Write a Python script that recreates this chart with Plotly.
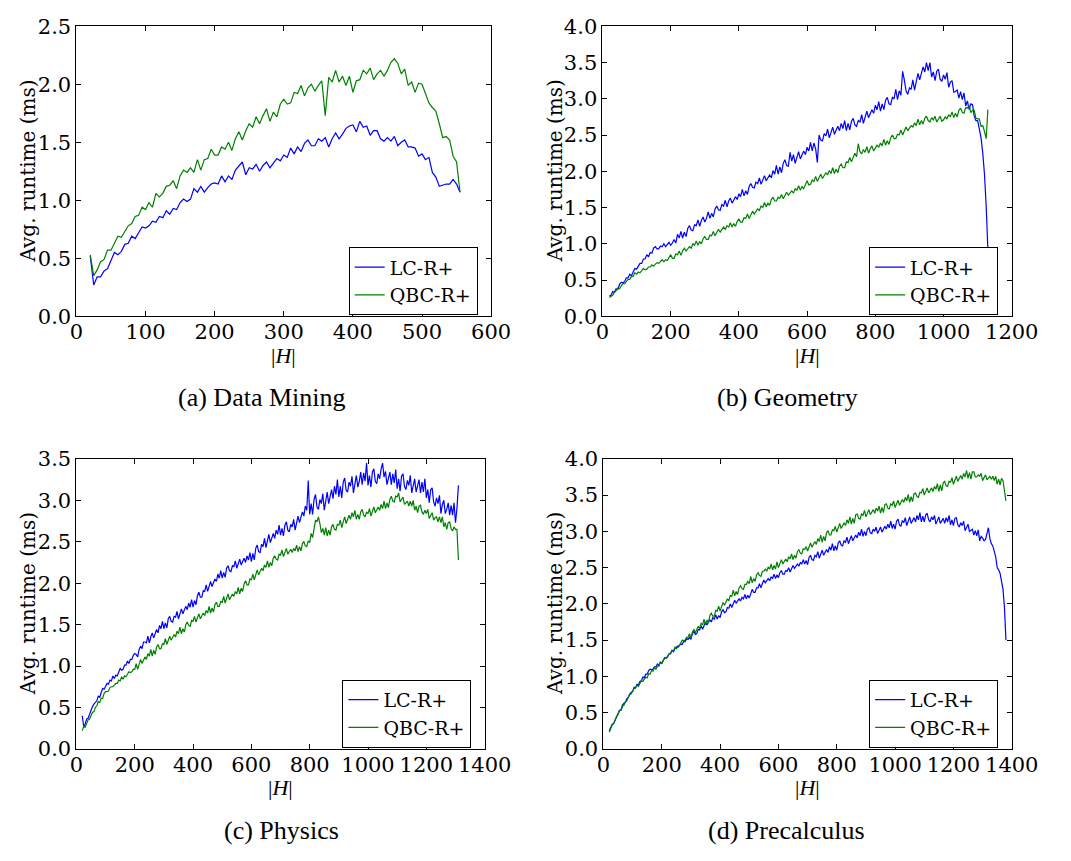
import plotly.graph_objects as go

# ---------------- data ----------------
# (a) Data Mining : |H| from 20, step 5
H_A_START, H_A_STEP = 20, 5
LC_A = [0.52, 0.27, 0.34, 0.34, 0.39, 0.41, 0.48, 0.55, 0.53, 0.56, 0.62, 0.63, 0.69, 0.67, 0.72, 0.77,
        0.76, 0.78, 0.82, 0.81, 0.86, 0.85, 0.91, 0.88, 0.93, 0.92, 0.98, 1.01, 0.99, 1.01, 1.10, 1.07,
        1.12, 1.07, 1.11, 1.14, 1.15, 1.14, 1.21, 1.16, 1.21, 1.18, 1.26, 1.30, 1.33, 1.22, 1.28, 1.27,
        1.31, 1.25, 1.30, 1.33, 1.28, 1.32, 1.36, 1.34, 1.39, 1.37, 1.45, 1.40, 1.46, 1.42, 1.49, 1.52,
        1.47, 1.47, 1.53, 1.51, 1.54, 1.46, 1.53, 1.58, 1.53, 1.57, 1.62, 1.64, 1.65, 1.59, 1.68, 1.63,
        1.64, 1.56, 1.60, 1.60, 1.53, 1.51, 1.54, 1.51, 1.55, 1.47, 1.50, 1.52, 1.46, 1.46, 1.45, 1.38,
        1.40, 1.35, 1.37, 1.24, 1.20, 1.12, 1.13, 1.14, 1.14, 1.18, 1.14, 1.07]
QBC_A = [0.53, 0.35, 0.40, 0.47, 0.49, 0.57, 0.57, 0.63, 0.69, 0.68, 0.73, 0.78, 0.80, 0.86, 0.87, 0.94,
         0.92, 0.98, 0.94, 1.06, 1.03, 1.06, 1.12, 1.13, 1.17, 1.10, 1.21, 1.26, 1.24, 1.28, 1.24, 1.35,
         1.26, 1.35, 1.36, 1.44, 1.39, 1.39, 1.46, 1.44, 1.50, 1.43, 1.53, 1.59, 1.52, 1.60, 1.66, 1.63,
         1.72, 1.66, 1.73, 1.79, 1.68, 1.76, 1.72, 1.83, 1.87, 1.83, 1.84, 1.93, 1.92, 1.99, 1.90, 1.97,
         2.00, 1.94, 1.99, 2.03, 1.73, 2.06, 2.02, 2.12, 2.02, 2.07, 1.99, 2.07, 1.93, 2.03, 2.04, 2.12,
         2.09, 2.14, 2.04, 2.09, 2.12, 2.07, 2.12, 2.19, 2.22, 2.18, 2.09, 2.13, 1.99, 2.02, 1.93, 2.01,
         2.00, 1.91, 1.84, 1.80, 1.77, 1.66, 1.54, 1.55, 1.52, 1.38, 1.33, 1.07]

# (b) Geometry : |H| from 20, step 5
H_B_START, H_B_STEP = 20, 5
LC_B = [0.28, 0.29, 0.34, 0.33, 0.38, 0.37, 0.44, 0.47, 0.46, 0.48, 0.53, 0.53, 0.58, 0.56, 0.61, 0.66,
        0.65, 0.69, 0.73, 0.73, 0.79, 0.79, 0.85, 0.82, 0.88, 0.87, 0.94, 0.96, 0.93, 0.93, 0.97, 0.96,
        1.00, 0.96, 0.99, 1.02, 0.98, 1.01, 1.06, 1.01, 1.13, 1.08, 1.17, 1.08, 1.16, 1.10, 1.21, 1.25,
        1.19, 1.18, 1.26, 1.25, 1.33, 1.24, 1.32, 1.37, 1.30, 1.35, 1.44, 1.35, 1.42, 1.37, 1.48, 1.52,
        1.47, 1.46, 1.54, 1.52, 1.60, 1.51, 1.59, 1.63, 1.56, 1.61, 1.65, 1.61, 1.69, 1.65, 1.75, 1.66,
        1.73, 1.68, 1.79, 1.83, 1.78, 1.77, 1.85, 1.83, 1.91, 1.82, 1.89, 1.94, 1.87, 1.91, 1.95, 1.91,
        2.01, 1.96, 2.08, 1.96, 2.06, 1.98, 2.11, 2.16, 2.08, 2.07, 2.26, 2.14, 2.23, 2.11, 2.21, 2.27,
        2.17, 2.23, 2.28, 2.23, 2.33, 2.28, 2.40, 2.28, 2.39, 2.31, 2.12, 2.50, 2.43, 2.42, 2.52, 2.49,
        2.58, 2.46, 2.55, 2.61, 2.51, 2.57, 2.62, 2.56, 2.66, 2.59, 2.70, 2.56, 2.66, 2.57, 2.69, 2.73,
        2.64, 2.62, 2.70, 2.68, 2.78, 2.66, 2.76, 2.83, 2.74, 2.80, 2.85, 2.80, 2.91, 2.85, 2.96, 2.83,
        2.93, 2.85, 2.98, 3.02, 2.93, 2.92, 3.02, 3.00, 3.13, 2.99, 3.11, 3.05, 3.38, 3.26, 3.11, 3.06,
        3.15, 3.13, 3.26, 3.12, 3.26, 3.35, 3.26, 3.35, 3.44, 3.37, 3.50, 3.39, 3.50, 3.30, 3.37, 3.25,
        3.38, 3.41, 3.27, 3.24, 3.33, 3.27, 3.36, 3.16, 3.23, 3.25, 3.09, 3.10, 3.12, 3.01, 3.10, 2.99,
        3.08, 2.90, 2.97, 2.85, 2.93, 2.92, 2.76, 2.70, 2.70, 2.58, 2.46, 2.25, 1.96, 1.52, 0.92]
QBC_B = [0.26, 0.27, 0.29, 0.33, 0.35, 0.39, 0.38, 0.42, 0.45, 0.45, 0.48, 0.51, 0.51, 0.55, 0.55, 0.60,
         0.58, 0.61, 0.60, 0.64, 0.66, 0.64, 0.65, 0.68, 0.68, 0.71, 0.69, 0.72, 0.74, 0.73, 0.75, 0.78,
         0.75, 0.78, 0.77, 0.81, 0.85, 0.80, 0.80, 0.86, 0.85, 0.90, 0.84, 0.90, 0.94, 0.90, 0.93, 0.96,
         0.94, 1.00, 0.98, 1.04, 0.98, 1.03, 1.00, 1.07, 1.10, 1.06, 1.06, 1.12, 1.11, 1.17, 1.11, 1.16,
         1.20, 1.16, 1.20, 1.23, 1.20, 1.25, 1.23, 1.29, 1.23, 1.28, 1.24, 1.31, 1.34, 1.30, 1.30, 1.36,
         1.35, 1.41, 1.35, 1.41, 1.45, 1.41, 1.45, 1.48, 1.46, 1.52, 1.50, 1.57, 1.51, 1.56, 1.53, 1.61,
         1.64, 1.59, 1.59, 1.64, 1.63, 1.68, 1.62, 1.67, 1.71, 1.67, 1.70, 1.73, 1.70, 1.76, 1.74, 1.80,
         1.74, 1.79, 1.76, 1.83, 1.87, 1.81, 1.82, 1.88, 1.86, 1.93, 1.86, 1.91, 1.96, 1.90, 1.95, 1.98,
         1.95, 2.01, 1.97, 2.05, 1.97, 2.03, 1.98, 2.07, 2.10, 2.05, 2.05, 2.13, 2.12, 2.19, 2.13, 2.20,
         2.25, 2.20, 2.38, 2.27, 2.24, 2.30, 2.26, 2.34, 2.25, 2.31, 2.35, 2.28, 2.32, 2.36, 2.33, 2.39,
         2.35, 2.44, 2.36, 2.42, 2.37, 2.46, 2.50, 2.45, 2.45, 2.51, 2.50, 2.57, 2.50, 2.56, 2.61, 2.56,
         2.60, 2.63, 2.61, 2.67, 2.63, 2.72, 2.64, 2.70, 2.65, 2.73, 2.76, 2.70, 2.68, 2.74, 2.71, 2.76,
         2.68, 2.73, 2.76, 2.69, 2.71, 2.75, 2.72, 2.78, 2.75, 2.82, 2.74, 2.80, 2.75, 2.84, 2.87, 2.81,
         2.80, 2.88, 2.87, 2.91, 2.81, 2.84, 2.84, 2.73, 2.72, 2.72, 2.62, 2.63, 2.55, 2.45, 2.85]

# (c) Physics : |H| from 20, step 5
H_C_START, H_C_STEP = 20, 5
LC_C = [0.40, 0.27, 0.30, 0.36, 0.37, 0.42, 0.46, 0.51, 0.54, 0.56, 0.58, 0.64, 0.62, 0.68, 0.73, 0.72,
        0.76, 0.79, 0.78, 0.83, 0.82, 0.88, 0.85, 0.89, 0.88, 0.94, 0.97, 0.95, 0.96, 1.01, 1.01, 1.06,
        1.03, 1.08, 1.08, 1.13, 1.15, 1.14, 1.11, 1.20, 1.24, 1.21, 1.29, 1.29, 1.28, 1.36, 1.28, 1.35,
        1.40, 1.34, 1.39, 1.44, 1.40, 1.49, 1.45, 1.54, 1.45, 1.52, 1.46, 1.57, 1.60, 1.54, 1.53, 1.60,
        1.59, 1.66, 1.57, 1.64, 1.69, 1.63, 1.67, 1.72, 1.68, 1.76, 1.71, 1.80, 1.71, 1.79, 1.74, 1.85,
        1.89, 1.83, 1.83, 1.91, 1.90, 1.98, 1.90, 1.97, 2.02, 1.96, 2.00, 2.05, 2.02, 2.11, 2.06, 2.15,
        2.06, 2.13, 2.07, 2.18, 2.21, 2.15, 2.14, 2.21, 2.20, 2.27, 2.18, 2.25, 2.29, 2.22, 2.26, 2.30,
        2.25, 2.33, 2.28, 2.37, 2.26, 2.36, 2.28, 2.42, 2.46, 2.38, 2.37, 2.47, 2.44, 2.54, 2.43, 2.52,
        2.59, 2.49, 2.54, 2.60, 2.54, 2.64, 2.59, 2.70, 2.58, 2.66, 2.57, 2.70, 2.74, 2.64, 2.62, 2.71,
        2.68, 2.77, 2.64, 2.74, 2.81, 2.73, 2.79, 2.86, 2.81, 2.93, 2.88, 3.24, 2.83, 2.96, 2.83, 3.01,
        3.07, 2.92, 2.89, 3.01, 2.96, 3.08, 2.88, 3.02, 3.10, 2.96, 3.04, 3.13, 3.02, 3.17, 3.07, 3.25,
        3.04, 3.17, 3.03, 3.22, 3.27, 3.12, 3.10, 3.22, 3.17, 3.29, 3.09, 3.22, 3.30, 3.16, 3.23, 3.34,
        3.19, 3.33, 3.23, 3.45, 3.18, 3.30, 3.16, 3.34, 3.38, 3.23, 3.20, 3.32, 3.26, 3.38, 3.45, 3.28,
        3.35, 3.19, 3.25, 3.34, 3.19, 3.32, 3.21, 3.37, 3.14, 3.26, 3.11, 3.29, 3.32, 3.17, 3.13, 3.24,
        3.18, 3.30, 3.09, 3.20, 3.26, 3.10, 3.16, 3.25, 3.09, 3.22, 3.10, 3.26, 3.03, 3.13, 2.97, 3.13,
        3.15, 2.98, 2.93, 3.03, 2.96, 3.06, 2.84, 2.95, 3.00, 2.84, 2.89, 2.97, 2.82, 2.94, 2.82, 2.97,
        2.73, 2.90, 3.18]
QBC_C = [0.22, 0.27, 0.26, 0.31, 0.35, 0.36, 0.40, 0.44, 0.45, 0.50, 0.52, 0.57, 0.56, 0.61, 0.61, 0.67,
         0.69, 0.69, 0.70, 0.74, 0.75, 0.75, 0.77, 0.79, 0.79, 0.83, 0.82, 0.87, 0.84, 0.88, 0.87, 0.91,
         0.93, 0.92, 0.93, 0.96, 0.96, 1.03, 0.96, 1.02, 1.08, 1.03, 1.07, 1.11, 1.08, 1.15, 1.12, 1.20,
         1.12, 1.19, 1.14, 1.23, 1.26, 1.21, 1.21, 1.27, 1.26, 1.33, 1.26, 1.31, 1.36, 1.31, 1.35, 1.38,
         1.35, 1.42, 1.39, 1.47, 1.39, 1.45, 1.41, 1.50, 1.53, 1.49, 1.48, 1.55, 1.54, 1.60, 1.53, 1.58,
         1.63, 1.57, 1.61, 1.64, 1.61, 1.67, 1.64, 1.72, 1.64, 1.70, 1.65, 1.74, 1.77, 1.72, 1.72, 1.78,
         1.77, 1.84, 1.76, 1.81, 1.87, 1.80, 1.84, 1.87, 1.84, 1.90, 1.87, 1.95, 1.87, 1.94, 1.90, 1.99,
         2.03, 1.98, 1.98, 2.05, 2.04, 2.11, 2.04, 2.10, 2.16, 2.10, 2.14, 2.18, 2.15, 2.22, 2.19, 2.27,
         2.19, 2.25, 2.21, 2.30, 2.33, 2.29, 2.28, 2.35, 2.34, 2.40, 2.32, 2.37, 2.42, 2.35, 2.38, 2.41,
         2.37, 2.42, 2.39, 2.46, 2.38, 2.44, 2.39, 2.48, 2.50, 2.45, 2.44, 2.51, 2.49, 2.60, 2.55, 2.66,
         2.76, 2.74, 2.80, 2.72, 2.61, 2.66, 2.58, 2.67, 2.57, 2.64, 2.58, 2.68, 2.71, 2.65, 2.64, 2.71,
         2.70, 2.76, 2.67, 2.74, 2.80, 2.72, 2.77, 2.82, 2.77, 2.85, 2.80, 2.88, 2.77, 2.83, 2.77, 2.86,
         2.89, 2.82, 2.80, 2.86, 2.84, 2.90, 2.81, 2.87, 2.92, 2.85, 2.89, 2.92, 2.88, 2.95, 2.90, 2.99,
         2.90, 2.97, 2.91, 3.01, 3.05, 2.99, 2.98, 3.05, 3.04, 3.09, 2.98, 3.02, 3.04, 2.95, 2.97, 2.99,
         2.93, 2.99, 2.93, 3.00, 2.88, 2.93, 2.85, 2.93, 2.94, 2.86, 2.83, 2.88, 2.84, 2.89, 2.78, 2.82,
         2.85, 2.76, 2.79, 2.80, 2.74, 2.80, 2.73, 2.80, 2.68, 2.73, 2.65, 2.73, 2.74, 2.66, 2.63, 2.68,
         2.65, 2.65, 2.28]

# (d) Precalculus : |H| from 20, step 5
H_D_START, H_D_STEP = 20, 5
LC_D = [0.25, 0.29, 0.34, 0.35, 0.39, 0.45, 0.48, 0.53, 0.53, 0.59, 0.63, 0.64, 0.69, 0.71, 0.74, 0.78,
        0.79, 0.85, 0.84, 0.89, 0.88, 0.93, 0.94, 0.99, 0.98, 1.03, 1.03, 1.08, 1.10, 1.09, 1.10, 1.13,
        1.13, 1.17, 1.15, 1.19, 1.18, 1.23, 1.26, 1.25, 1.27, 1.31, 1.32, 1.36, 1.34, 1.38, 1.41, 1.40,
        1.43, 1.45, 1.44, 1.48, 1.48, 1.52, 1.51, 1.54, 1.51, 1.59, 1.62, 1.58, 1.59, 1.65, 1.64, 1.70,
        1.65, 1.71, 1.75, 1.71, 1.75, 1.78, 1.75, 1.81, 1.79, 1.85, 1.79, 1.84, 1.81, 1.89, 1.92, 1.88,
        1.89, 1.95, 1.94, 2.00, 1.95, 2.01, 2.05, 2.01, 2.04, 2.07, 2.04, 2.09, 2.07, 2.13, 2.07, 2.12,
        2.08, 2.16, 2.20, 2.16, 2.16, 2.22, 2.22, 2.28, 2.22, 2.28, 2.33, 2.29, 2.32, 2.35, 2.32, 2.37,
        2.35, 2.41, 2.35, 2.40, 2.36, 2.43, 2.46, 2.41, 2.41, 2.46, 2.45, 2.50, 2.44, 2.49, 2.53, 2.49,
        2.52, 2.55, 2.52, 2.57, 2.55, 2.61, 2.55, 2.60, 2.54, 2.64, 2.67, 2.61, 2.60, 2.67, 2.65, 2.72,
        2.63, 2.70, 2.74, 2.67, 2.71, 2.75, 2.71, 2.79, 2.74, 2.83, 2.73, 2.80, 2.74, 2.84, 2.87, 2.81,
        2.80, 2.87, 2.85, 2.92, 2.83, 2.90, 2.94, 2.87, 2.91, 2.95, 2.91, 2.99, 2.94, 3.03, 2.93, 3.00,
        2.94, 3.03, 3.05, 2.98, 2.97, 3.03, 3.00, 3.06, 2.97, 3.03, 3.06, 2.99, 3.03, 3.07, 3.03, 3.10,
        3.05, 3.14, 3.04, 3.10, 3.03, 3.14, 3.17, 3.09, 3.07, 3.15, 3.12, 3.19, 3.08, 3.15, 3.20, 3.11,
        3.15, 3.19, 3.13, 3.22, 3.16, 3.26, 3.13, 3.21, 3.13, 3.23, 3.25, 3.16, 3.13, 3.20, 3.16, 3.22,
        3.10, 3.16, 3.20, 3.11, 3.14, 3.18, 3.11, 3.19, 3.13, 3.22, 3.09, 3.16, 3.08, 3.18, 3.19, 3.09,
        3.06, 3.12, 3.08, 3.14, 3.01, 3.07, 3.10, 3.00, 3.01, 3.03, 2.95, 3.01, 2.94, 3.02, 2.87, 2.93,
        2.91, 2.87, 2.89, 2.96, 3.05, 2.90, 2.83, 2.80, 2.72, 2.65, 2.50, 2.47, 2.42, 2.30, 2.20, 1.95,
        1.50]
QBC_D = [0.23, 0.29, 0.33, 0.35, 0.40, 0.45, 0.47, 0.53, 0.54, 0.61, 0.60, 0.65, 0.66, 0.72, 0.76, 0.76,
         0.79, 0.83, 0.84, 0.88, 0.86, 0.90, 0.94, 0.93, 0.96, 0.99, 0.98, 1.04, 1.03, 1.08, 1.07, 1.12,
         1.10, 1.14, 1.14, 1.20, 1.18, 1.22, 1.25, 1.25, 1.28, 1.31, 1.31, 1.35, 1.35, 1.40, 1.38, 1.42,
         1.42, 1.47, 1.50, 1.49, 1.50, 1.54, 1.54, 1.59, 1.53, 1.61, 1.65, 1.60, 1.65, 1.69, 1.66, 1.73,
         1.71, 1.79, 1.71, 1.78, 1.74, 1.84, 1.87, 1.83, 1.83, 1.91, 1.90, 1.97, 1.90, 1.98, 2.02, 1.98,
         2.03, 2.07, 2.04, 2.12, 2.10, 2.19, 2.11, 2.17, 2.13, 2.22, 2.25, 2.21, 2.20, 2.27, 2.27, 2.31,
         2.28, 2.38, 2.29, 2.35, 2.31, 2.40, 2.43, 2.39, 2.38, 2.45, 2.45, 2.48, 2.45, 2.51, 2.48, 2.55,
         2.47, 2.53, 2.48, 2.58, 2.50, 2.57, 2.61, 2.55, 2.58, 2.62, 2.58, 2.65, 2.62, 2.69, 2.61, 2.67,
         2.63, 2.72, 2.75, 2.70, 2.69, 2.76, 2.75, 2.79, 2.73, 2.80, 2.84, 2.78, 2.82, 2.86, 2.82, 2.90,
         2.86, 2.95, 2.85, 2.93, 2.87, 2.98, 3.01, 2.95, 2.95, 3.02, 3.01, 3.07, 2.99, 3.07, 3.11, 3.04,
         3.08, 3.12, 3.08, 3.16, 3.11, 3.20, 3.10, 3.18, 3.11, 3.23, 3.24, 3.18, 3.17, 3.24, 3.22, 3.29,
         3.20, 3.26, 3.30, 3.23, 3.26, 3.30, 3.25, 3.32, 3.28, 3.35, 3.25, 3.33, 3.26, 3.37, 3.38, 3.32,
         3.31, 3.38, 3.36, 3.42, 3.33, 3.39, 3.43, 3.36, 3.40, 3.44, 3.40, 3.47, 3.42, 3.51, 3.40, 3.48,
         3.41, 3.52, 3.53, 3.48, 3.47, 3.54, 3.53, 3.59, 3.50, 3.56, 3.60, 3.53, 3.56, 3.60, 3.55, 3.62,
         3.58, 3.66, 3.55, 3.64, 3.56, 3.67, 3.69, 3.63, 3.62, 3.69, 3.68, 3.74, 3.65, 3.72, 3.76, 3.69,
         3.73, 3.77, 3.72, 3.80, 3.75, 3.84, 3.73, 3.81, 3.72, 3.82, 3.82, 3.75, 3.75, 3.78, 3.76, 3.80,
         3.70, 3.75, 3.78, 3.71, 3.73, 3.76, 3.72, 3.76, 3.70, 3.76, 3.65, 3.72, 3.64, 3.73, 3.70, 3.58,
         3.42]

CAPTIONS = ["(a) Data Mining", "(b) Geometry", "(c) Physics", "(d) Precalculus"]
SERIES_NAMES = ["LC-R+", "QBC-R+"]
X_RANGES = [[0, 600], [0, 1200], [0, 1400], [0, 1400]]
Y_RANGES = [[0, 2.5], [0, 4.0], [0, 3.5], [0, 4.0]]
X_DTICK = [100, 200, 200, 200]

# ---------------- figure ----------------
W, H = 1071, 861
BLUE = "#0000ff"
GREEN = "#008000"
TICK_FONT = dict(family="DejaVu Serif", size=21, color="black")


def px_x(p):
    return p / W


def px_y(p):
    return 1 - p / H


panels = [
    dict(start=H_A_START, step=H_A_STEP, lc=LC_A, qbc=QBC_A,
         xd=[px_x(71.7), px_x(500)], yd=[px_y(313), px_y(14.7)],
         leg=(419.5, 242), ytitle_x=22, xtitle_y=353, cap=(263, 397)),
    dict(start=H_B_START, step=H_B_STEP, lc=LC_B, qbc=QBC_B,
         xd=[px_x(615), px_x(1037.7)], yd=[px_y(313), px_y(14.7)],
         leg=(957, 242), ytitle_x=566, xtitle_y=353, cap=(806, 397)),
    dict(start=H_C_START, step=H_C_STEP, lc=LC_C, qbc=QBC_C,
         xd=[px_x(71.7), px_x(493.3)], yd=[px_y(758), px_y(459.7)],
         leg=(413, 687), ytitle_x=22, xtitle_y=798, cap=(283, 842)),
    dict(start=H_D_START, step=H_D_STEP, lc=LC_D, qbc=QBC_D,
         xd=[px_x(616), px_x(1037.7)], yd=[px_y(758), px_y(459.7)],
         leg=(957, 687), ytitle_x=566, xtitle_y=798, cap=(805, 842)),
]

fig = go.Figure()
layout = dict(width=W, height=H, margin=dict(l=0, r=0, t=0, b=0),
              paper_bgcolor="white", plot_bgcolor="white", showlegend=True)
annotations = []

for i, p in enumerate(panels):
    k = "" if i == 0 else str(i + 1)
    leg = "legend" if i == 0 else "legend" + str(i + 1)
    for name, ys, col in ((SERIES_NAMES[0], p["lc"], BLUE), (SERIES_NAMES[1], p["qbc"], GREEN)):
        xs = [p["start"] + p["step"] * j for j in range(len(ys))]
        fig.add_trace(go.Scatter(x=xs, y=ys, mode="lines", name=name,
                                 line=dict(color=col, width=1.2),
                                 xaxis="x" + k, yaxis="y" + k, legend=leg))
    axis_common = dict(showline=True, linecolor="black", linewidth=1, mirror="allticks",
                       ticks="inside", ticklen=5, tickcolor="black", tickwidth=1,
                       showgrid=False, zeroline=False, tickfont=TICK_FONT)
    layout["xaxis" + k] = dict(domain=p["xd"], anchor="y" + k, range=X_RANGES[i],
                               tick0=0, dtick=X_DTICK[i], ticklabelstandoff=-3, **axis_common)
    layout["yaxis" + k] = dict(domain=p["yd"], anchor="x" + k, range=Y_RANGES[i],
                               tick0=0, dtick=0.5, tickformat=".1f", **axis_common)
    layout[leg] = dict(x=px_x(p["leg"][0]), y=px_y(p["leg"][1]), xanchor="center", yanchor="top",
                       bgcolor="white", bordercolor="black", borderwidth=1,
                       font=dict(family="DejaVu Serif", size=19, color="black"),
                       itemwidth=30, tracegroupgap=0)
    ymid = (p["yd"][0] + p["yd"][1]) / 2
    xmid = (p["xd"][0] + p["xd"][1]) / 2
    annotations.append(dict(text="Avg. runtime (ms)", textangle=-90, x=px_x(p["ytitle_x"]), y=ymid,
                            xref="paper", yref="paper", showarrow=False, xanchor="center",
                            yanchor="middle", font=dict(family="DejaVu Serif", size=20, color="black")))
    annotations.append(dict(text="|<i>H</i>|", x=xmid, y=px_y(p["xtitle_y"]), xref="paper", yref="paper",
                            showarrow=False, xanchor="center", yanchor="middle",
                            font=dict(family="Liberation Serif", size=22, color="black")))
    annotations.append(dict(text=CAPTIONS[i], x=px_x(p["cap"][0]), y=px_y(p["cap"][1]),
                            xref="paper", yref="paper", showarrow=False, xanchor="center",
                            yanchor="middle", font=dict(family="Liberation Serif", size=26, color="black")))

layout["annotations"] = annotations
fig.update_layout(**layout)
fig.write_html("out.html")
